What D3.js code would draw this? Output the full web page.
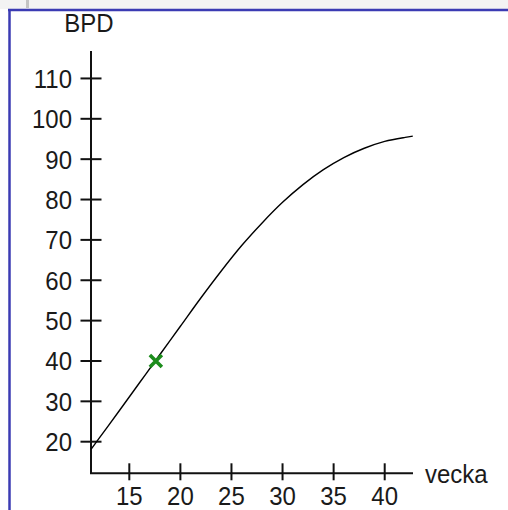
<!DOCTYPE html>
<html>
<head>
<meta charset="utf-8">
<script src="https://cdn.jsdelivr.net/npm/d3@7"></script>
<style>
  html, body { margin: 0; padding: 0; background: #ffffff; }
  svg { display: block; }
  text { font-family: "Liberation Sans", Arial, sans-serif; fill: #1a1a1a; }
</style>
</head>
<body>
<svg id="chart" width="508" height="510"></svg>
<script>
// Reference growth curve: biparietal diameter (mm) by gestational week
const weeks = [11.25, 12, 14, 16, 18, 20, 22, 24, 26, 28, 30, 32, 34, 36, 38, 40, 42, 42.75];
const bpd   = [18.1, 20.7, 27.6, 34.6, 41.6, 48.6, 55.6, 62.3, 68.6, 74.2, 79.3, 83.7, 87.4, 90.4, 92.7, 94.4, 95.4, 95.7];

// Recorded measurement
const measuredWeek = [17.6];
const measuredBpd  = [40];

// Axis ticks and titles
const xTicks = [15, 20, 25, 30, 35, 40];
const yTicks = [20, 30, 40, 50, 60, 70, 80, 90, 100, 110];
const xTitle = "vecka";
const yTitle = "BPD";

const svg = d3.select("#chart");
const fontSize = 24;
// Glyphs in this chart are drawn slightly taller than regular proportions
const stretch = (xx, yy) => `translate(${xx},${yy}) scale(1,1.1)`;

// Frame: grey strip above, blue rule along top and left
svg.append("rect").attr("x", 0).attr("y", 0).attr("width", 508).attr("height", 9).attr("fill", "#f3f3f3");
svg.append("rect").attr("x", 26).attr("y", 0).attr("width", 3).attr("height", 8).attr("fill", "#c4c4c4");
svg.append("line").attr("x1", 8).attr("x2", 508).attr("y1", 10).attr("y2", 10)
  .attr("stroke", "#3b3bb3").attr("stroke-width", 2.5);
svg.append("line").attr("x1", 9.5).attr("x2", 9.5).attr("y1", 9).attr("y2", 510)
  .attr("stroke", "#3b3bb3").attr("stroke-width", 2.5);

const xScale = d3.scaleLinear().domain([11.25, 42.77]).range([91, 413]);
const yScale = d3.scaleLinear().domain([12.17, 116.8]).range([473.3, 51]);

const axisColor = "#111";
const ax = svg.append("g");

// Axis lines
ax.append("line")
  .attr("x1", xScale(11.25)).attr("x2", xScale(11.25))
  .attr("y1", yScale(116.8)).attr("y2", yScale(12.17))
  .attr("stroke", axisColor).attr("stroke-width", 2);
ax.append("line")
  .attr("x1", xScale(11.25) - 1).attr("x2", xScale(42.77))
  .attr("y1", yScale(12.17)).attr("y2", yScale(12.17))
  .attr("stroke", axisColor).attr("stroke-width", 2);

// Y ticks and labels
const yg = ax.selectAll(".yt").data(yTicks).enter().append("g").attr("class", "yt");
yg.append("line")
  .attr("x1", xScale(11.25) - 10.5).attr("x2", xScale(11.25) + 10.5)
  .attr("y1", d => yScale(d)).attr("y2", d => yScale(d))
  .attr("stroke", axisColor).attr("stroke-width", 2);
yg.append("text")
  .attr("transform", d => stretch(72, yScale(d) + 9.5))
  .attr("text-anchor", "end")
  .attr("font-size", fontSize)
  .text(d => d);

// X ticks and labels
const xg = ax.selectAll(".xt").data(xTicks).enter().append("g").attr("class", "xt");
xg.append("line")
  .attr("x1", d => xScale(d)).attr("x2", d => xScale(d))
  .attr("y1", yScale(12.17) - 10).attr("y2", yScale(12.17) + 7)
  .attr("stroke", axisColor).attr("stroke-width", 2);
xg.append("text")
  .attr("transform", d => stretch(xScale(d), 504.5))
  .attr("text-anchor", "middle")
  .attr("font-size", fontSize)
  .text(d => d);

// Axis titles
svg.append("text").attr("transform", stretch(425, 483)).attr("font-size", fontSize).text(xTitle);
svg.append("text").attr("transform", stretch(89, 31.5)).attr("text-anchor", "middle").attr("font-size", fontSize).text(yTitle);

// Growth curve
const line = d3.line()
  .x(d => xScale(d[0]))
  .y(d => yScale(d[1]))
  .curve(d3.curveMonotoneX);
svg.append("path")
  .datum(d3.zip(weeks, bpd))
  .attr("d", line)
  .attr("fill", "none")
  .attr("stroke", "#000")
  .attr("stroke-width", 1.4);

// Measurement marker (cross)
const mk = svg.selectAll(".mk").data(d3.zip(measuredWeek, measuredBpd)).enter().append("g")
  .attr("transform", d => `translate(${xScale(d[0])},${yScale(d[1])})`);
const s = 6;
mk.append("path")
  .attr("d", `M${-s},${-s}L${s},${s}M${s},${-s}L${-s},${s}`)
  .attr("stroke", "#1c8c1c").attr("stroke-width", 3.6).attr("fill", "none");
</script>
</body>
</html>
